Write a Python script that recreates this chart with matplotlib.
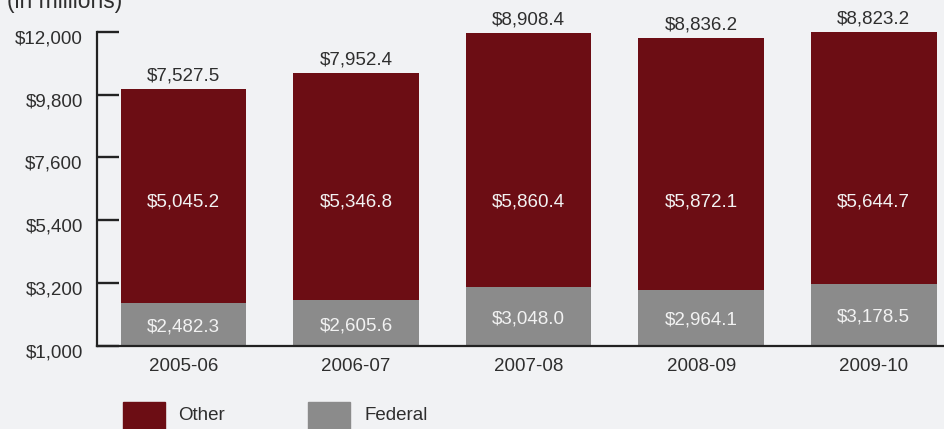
import matplotlib
matplotlib.use("Agg")
import matplotlib.pyplot as plt
from matplotlib.patches import Rectangle
from matplotlib.transforms import ScaledTranslation
import numpy as np

# Revenue by source, fiscal years (in millions of dollars)
years = ["2005-06", "2006-07", "2007-08", "2008-09", "2009-10"]
federal = [2482.3, 2605.6, 3048.0, 2964.1, 3178.5]
other = [5045.2, 5346.8, 5860.4, 5872.1, 5644.7]
totals = [7527.5, 7952.4, 8908.4, 8836.2, 8823.2]
y_ticks = [1000, 3200, 5400, 7600, 9800, 12000]

RED = "#6C0D14"
GRAY = "#8B8B8B"
BG = "#F1F2F4"
INK = "#2E2E2E"
LIGHT = "#F2F2F2"

plt.rcParams["font.family"] = ["Liberation Sans", "DejaVu Sans"]
FS = 13.5

W, H = 945, 429
fig = plt.figure(figsize=(W / 100, H / 100), dpi=100, facecolor=BG)
ax = fig.add_axes([97.3 / W, 83.3 / H, (W - 97.3) / W, (345.7 - 32) / H])
ax.set_facecolor(BG)

x = np.arange(len(years))
bw = 0.728

ax.bar(x, federal, width=bw, color=GRAY, zorder=2)
ax.bar(x, totals, width=bw, bottom=federal, color=RED, zorder=2)

ax.set_xlim(-0.5, 4.413)
ax.set_ylim(1000, 12000)

# value labels
for i in range(len(years)):
    top = federal[i] + totals[i]
    ax.annotate(f"${totals[i]:,.1f}", (x[i], top), xytext=(0, 9.5),
                textcoords="offset points", ha="center", va="center",
                fontsize=FS, color=INK)
    ax.text(x[i], 6050, f"${other[i]:,.1f}", ha="center", va="center",
            fontsize=FS, color=LIGHT, zorder=3)
    ax.annotate(f"${federal[i]:,.1f}", (x[i], (1000 + federal[i]) / 2),
                xytext=(0, -2), textcoords="offset points",
                ha="center", va="center", fontsize=FS, color=LIGHT, zorder=3)

# axes styling
for side in ("top", "right"):
    ax.spines[side].set_visible(False)
for side in ("left", "bottom"):
    ax.spines[side].set_color("#222222")
    ax.spines[side].set_linewidth(1.6)

ax.set_yticks(y_ticks)
ax.set_yticklabels([f"${v:,.0f}" for v in y_ticks])
ax.tick_params(axis="y", direction="in", length=15.6, width=1.7,
               color="#222222", pad=10.5, labelsize=FS, labelcolor=INK)
shift = ScaledTranslation(0, -5 / 100, fig.dpi_scale_trans)
for lbl in ax.get_yticklabels():
    lbl.set_transform(lbl.get_transform() + shift)

ax.set_xticks(x)
ax.set_xticklabels(years)
ax.tick_params(axis="x", length=0, pad=9, labelsize=FS, labelcolor=INK)

# unit note
fig.text(7 / W, 1 - 8 / H, "(in millions)", fontsize=16.5, color=INK,
         ha="left", va="baseline")

# legend swatches
def swatch(x0, color, label, tx):
    fig.add_artist(Rectangle((x0 / W, (H - 401.7 - 42) / H), 42 / W, 42 / H,
                             transform=fig.transFigure, color=color))
    fig.text(tx / W, 1 - 416 / H, label, fontsize=FS, color=INK,
             ha="left", va="center")

swatch(123.3, RED, "Other", 177.7)
swatch(308.0, GRAY, "Federal", 365.0)

fig.savefig("out.png", dpi=100, facecolor=BG)
